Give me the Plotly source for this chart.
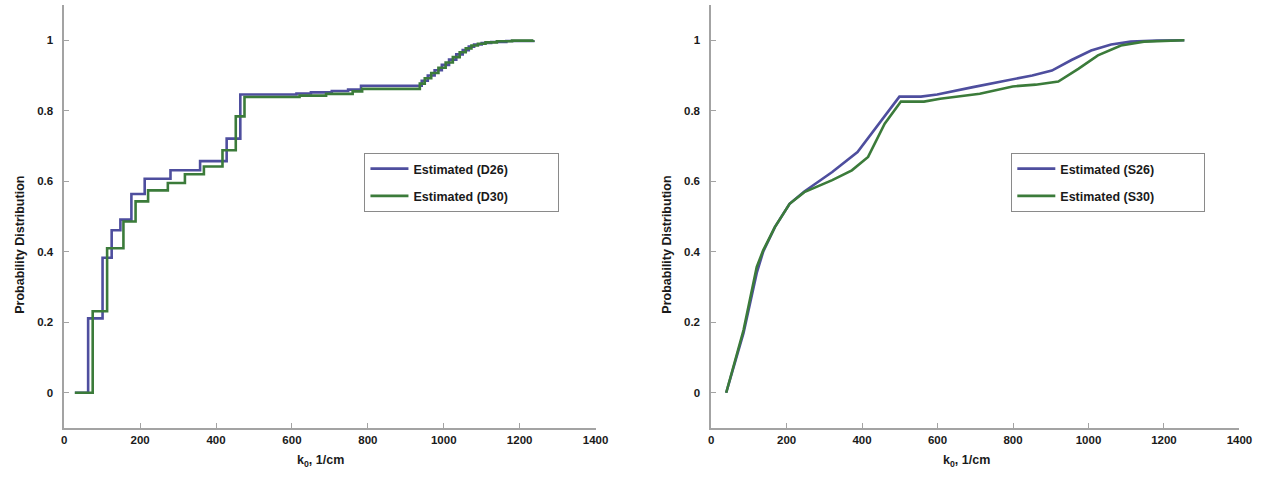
import plotly.graph_objects as go

# Empirical CDFs (step curves), left panel
k_d26 = [28, 63, 101, 125, 148, 177, 212, 280, 358, 428, 464, 612, 650, 705, 748, 782,
         942, 958, 976, 995, 1014, 1033, 1050, 1066, 1080, 1100, 1125, 1165, 1236]
p_d26 = [0, 0.211, 0.383, 0.461, 0.491, 0.564, 0.607, 0.631, 0.657, 0.721, 0.846, 0.849,
         0.852, 0.856, 0.86, 0.871, 0.885, 0.9, 0.915, 0.93, 0.945, 0.96, 0.972, 0.982,
         0.988, 0.992, 0.995, 0.998, 1.0]

k_d30 = [28, 75, 113, 156, 188, 221, 273, 318, 368, 417, 452, 475, 620, 690, 760, 785,
         937, 950, 967, 986, 1005, 1024, 1042, 1058, 1073, 1090, 1110, 1140, 1180, 1236]
p_d30 = [0, 0.231, 0.41, 0.486, 0.543, 0.574, 0.595, 0.62, 0.642, 0.688, 0.784, 0.839,
         0.843, 0.848, 0.855, 0.862, 0.877, 0.892, 0.907, 0.922, 0.937, 0.952, 0.966,
         0.977, 0.985, 0.99, 0.994, 0.997, 0.999, 1.0]

# Smooth estimates, right panel
k_s26 = [40, 86, 121, 138, 169, 208, 247, 321, 388, 447, 499, 556, 599, 694, 799, 851,
         903, 955, 1007, 1060, 1112, 1181, 1254]
p_s26 = [0, 0.17, 0.34, 0.4, 0.47, 0.536, 0.571, 0.626, 0.683, 0.768, 0.84, 0.84, 0.846,
         0.867, 0.89, 0.9, 0.914, 0.944, 0.971, 0.988, 0.996, 0.999, 1.0]

k_s30 = [40, 86, 121, 138, 169, 208, 247, 321, 373, 416, 460, 503, 564, 607, 712, 799,
         860, 920, 973, 1025, 1086, 1147, 1254]
p_s30 = [0, 0.178, 0.357, 0.404, 0.47, 0.536, 0.569, 0.603, 0.631, 0.669, 0.763, 0.826,
         0.826, 0.834, 0.848, 0.869, 0.874, 0.883, 0.919, 0.957, 0.985, 0.996, 1.0]

x_ticks = [0, 200, 400, 600, 800, 1000, 1200, 1400]
y_ticks = [0, 0.2, 0.4, 0.6, 0.8, 1]
y_tick_text = ["0", "0.2", "0.4", "0.6", "0.8", "1"]

BLUE = "#4e4e9e"
GREEN = "#3b7b3a"
AXIS = "#a3a3a3"
TICK_FONT = dict(family="Liberation Sans", size=11.5, color="#1a1a1a", weight="bold")
TITLE_FONT = dict(family="Liberation Sans", size=12.5, color="#1a1a1a", weight="bold")
LEGEND_FONT = dict(family="Liberation Sans", size=12.5, color="#1a1a1a", weight="bold")

W, H = 1288, 477
PAD = "\u00a0" * 13  # widens the legend box on the right

fig = go.Figure()
fig.add_trace(go.Scatter(x=k_d26, y=p_d26, mode="lines", line=dict(color=BLUE, width=2.6, shape="hv"),
                         name="Estimated (D26)" + PAD, legendgroup="a",
                         xaxis="x", yaxis="y", legend="legend"))
fig.add_trace(go.Scatter(x=k_d30, y=p_d30, mode="lines", line=dict(color=GREEN, width=2.6, shape="hv"),
                         name="Estimated (D30)" + PAD, legendgroup="b",
                         xaxis="x", yaxis="y", legend="legend"))
fig.add_trace(go.Scatter(x=k_s26, y=p_s26, mode="lines", line=dict(color=BLUE, width=2.6),
                         name="Estimated (S26)" + PAD, legendgroup="c",
                         xaxis="x2", yaxis="y2", legend="legend2"))
fig.add_trace(go.Scatter(x=k_s30, y=p_s30, mode="lines", line=dict(color=GREEN, width=2.6),
                         name="Estimated (S30)" + PAD, legendgroup="d",
                         xaxis="x2", yaxis="y2", legend="legend2"))

def xaxis(domain, anchor):
    return dict(domain=domain, anchor=anchor, range=[0, 1400], tickvals=x_ticks,
                showline=True, linecolor=AXIS, linewidth=1.5, ticks="inside", ticklen=5,
                tickcolor=AXIS, showgrid=False, zeroline=False, tickfont=TICK_FONT)

def yaxis(anchor):
    return dict(domain=[(H - 428) / H, (H - 5) / H], anchor=anchor, range=[-0.1, 1.1],
                tickvals=y_ticks, ticktext=y_tick_text, showline=True, linecolor=AXIS,
                linewidth=1.5, ticks="inside", ticklen=5, tickcolor=AXIS, showgrid=False,
                zeroline=False, tickfont=TICK_FONT, ticklabelstandoff=7)

legend_style = dict(bgcolor="white", bordercolor="#8a8a8a", borderwidth=1, font=LEGEND_FONT,
                    itemwidth=38, xanchor="left", yanchor="top", tracegroupgap=8)

def label(text, x_px, y_px, angle=0):
    return dict(text=text, x=x_px / W, y=1 - y_px / H, xref="paper", yref="paper",
                xanchor="center", yanchor="middle", textangle=angle, showarrow=False,
                font=TITLE_FONT)

fig.update_layout(
    width=W, height=H,
    margin=dict(l=0, r=0, t=0, b=0),
    paper_bgcolor="white", plot_bgcolor="white",
    xaxis=xaxis([62 / W, 600 / W], "y"),
    yaxis=yaxis("x"),
    xaxis2=xaxis([717 / W, 1252 / W], "y2"),
    yaxis2=yaxis("x2"),
    legend=dict(x=366 / W, y=1 - 153 / H, **legend_style),
    legend2=dict(x=1021 / W, y=1 - 153 / H, **legend_style),
    annotations=[
        label("Probability Distribution", 17, 245, -90),
        label("Probability Distribution", 672, 245, -90),
        label("k<sub>0</sub>, 1/cm", 321, 461),
        label("k<sub>0</sub>, 1/cm", 976, 461),
    ],
)

fig.write_html("out.html")
